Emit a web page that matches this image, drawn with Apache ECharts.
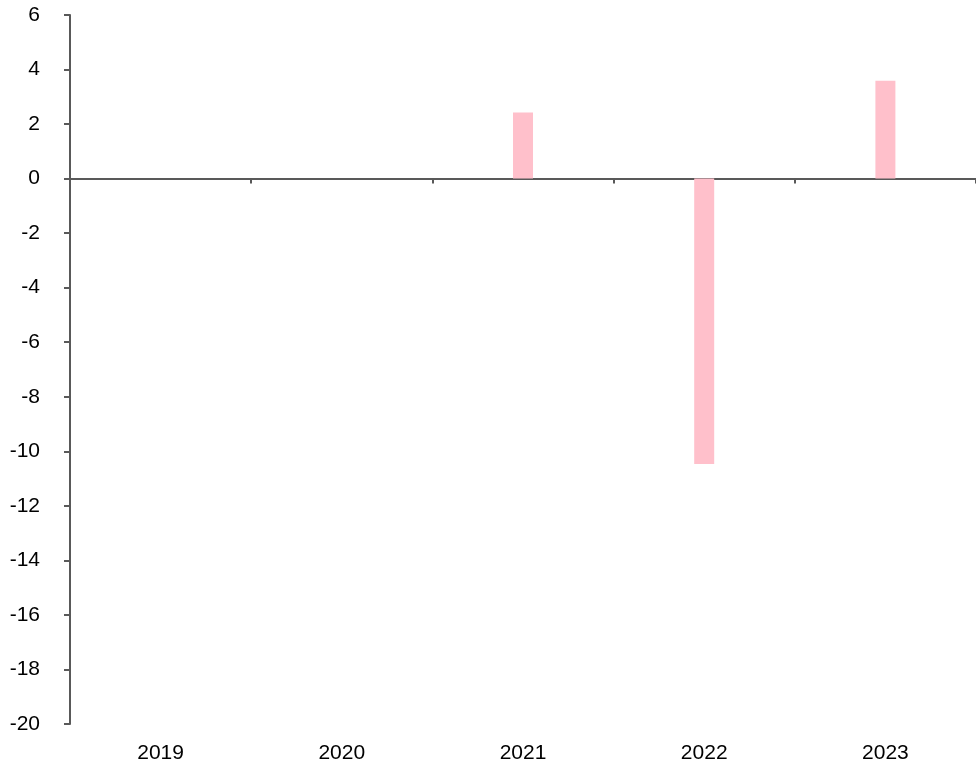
<!DOCTYPE html>
<html>
<head>
<meta charset="utf-8">
<script src="https://cdn.jsdelivr.net/npm/echarts@6/dist/echarts.min.js"></script>
<style>
  html, body { margin: 0; padding: 0; background: #fff; }
  #chart { width: 976px; height: 764px; }
</style>
</head>
<body>
<div id="chart"></div>
<script>
// data
var years = ['2019', '2020', '2021', '2022', '2023'];
var values = [null, null, 2.42, -10.47, 3.59];

var axisColor = '#595959';

var myChart = echarts.init(document.getElementById('chart'));
var option = {
    animation: false,
    backgroundColor: '#ffffff',
    grid: { left: 70, right: -1, top: 15, bottom: 40, containLabel: false },
    xAxis: [
        {
            // line through zero, with the ticks
            type: 'category',
            data: years,
            axisLine: { onZero: true, lineStyle: { color: axisColor, width: 2 } },
            axisTick: { show: true, length: 5, lineStyle: { color: axisColor, width: 2 } },
            axisLabel: { show: false },
            splitLine: { show: false }
        },
        {
            // labels at the bottom
            type: 'category',
            data: years,
            position: 'bottom',
            axisLine: { show: false, onZero: false },
            axisTick: { show: false },
            axisLabel: {
                show: true,
                margin: 19,
                color: '#000',
                fontFamily: 'Liberation Sans, Arial, sans-serif',
                fontSize: 21
            },
            splitLine: { show: false }
        }
    ],
    yAxis: {
        type: 'value',
        min: -20,
        max: 6,
        interval: 2,
        axisLine: { show: true, lineStyle: { color: axisColor, width: 2 } },
        axisTick: { show: true, length: 6, lineStyle: { color: axisColor, width: 2 } },
        axisLabel: {
            margin: 30,
            color: '#000',
            fontFamily: 'Liberation Sans, Arial, sans-serif',
            fontSize: 21
        },
        splitLine: { show: false }
    },
    series: [
        {
            type: 'bar',
            xAxisIndex: 0,
            data: values,
            barWidth: 20,
            itemStyle: { color: '#FFC0CB' }
        }
    ]
};
option && myChart.setOption(option);
</script>
</body>
</html>
